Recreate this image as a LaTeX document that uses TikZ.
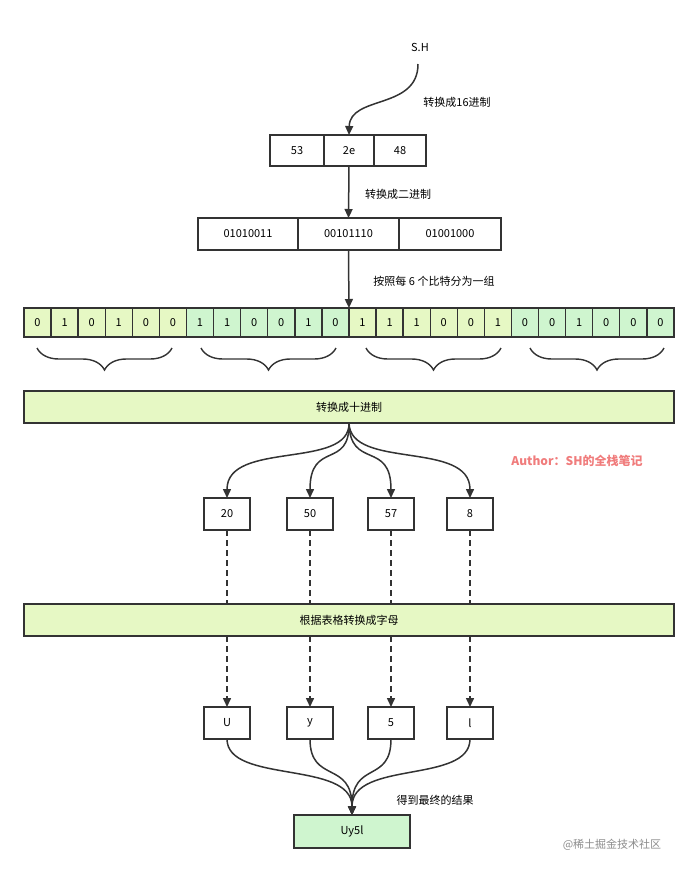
\documentclass[tikz,border=0pt]{standalone}
\usepackage{fontspec}
\setmainfont{Noto Sans CJK SC}
\usetikzlibrary{arrows.meta,decorations.pathreplacing}
\definecolor{lime}{HTML}{E6F8C4}
\definecolor{mint}{HTML}{CFF5CF}
\definecolor{author}{HTML}{F07C7C}
\begin{document}
\begin{tikzpicture}[
  x = 1pt, y = -1pt,
  cell/.style = {
    draw = black!80,
    line width = 1.4pt,
    inner sep = 0pt,
    outer sep = 0pt,
    font = \fontsize{11}{13}\selectfont,
  },
  lbl/.style = {
    font = \fontsize{11}{13}\selectfont,
  },
  arr/.style = {
    draw = black!80,
    line width = 1.5pt,
    -{Triangle[length=9pt, width=8pt]}
  },
  dasharr/.style = {
    arr,
    dash pattern = on 6pt off 4pt
  }
]
  \useasboundingbox (0,0) rectangle (699,873);

  \node[lbl] (sh) at (420,47) {S.H};
  \coordinate (shout) at (418,64);

  % hex row
  \node[cell, minimum width = 54pt, minimum height = 31pt] (h1) at (297,150.5) {53};
  \node[cell, minimum width = 50pt, minimum height = 31pt] (h2) at (349,150.5) {2e};
  \node[cell, minimum width = 52pt, minimum height = 31pt] (h3) at (400,150.5) {48};

  % binary row
  \node[cell, minimum width = 100pt, minimum height = 32pt] (b1) at (248,234) {01010011};
  \node[cell, minimum width = 101pt, minimum height = 32pt] (b2) at (348.5,234) {00101110};
  \node[cell, minimum width = 102pt, minimum height = 32pt] (b3) at (450,234) {01001000};

  \draw[arr] (shout) .. controls (418,110) and (350,95) .. (h2.north);
  \node[lbl] (lhex) at (457,102) {转换成16进制};
  \draw[arr] (h2.south) -- (b2.north);
  \node[lbl] (lbin) at (398,194) {转换成二进制};
  \node[lbl] (lsix) at (434,281) {按照每 6 个比特分为一组};

  % bits
  \foreach \b [count=\i from 0] in {0,1,0,1,0,0,1,1,0,0,1,0,1,1,1,0,0,1,0,0,1,0,0,0} {
    \pgfmathtruncatemacro{\grp}{mod(int(\i/6),2)}
    \ifnum\grp=0 \def\fc{lime}\else\def\fc{mint}\fi
    \node[cell, fill = \fc, minimum width = 27.08pt, minimum height = 29pt]
      (bit\i) at ({24+27.08*\i+13.54},322.5) {\b};
  }
  \draw[arr] (b2.south) -- (bit12.north west);

  % braces
  \foreach \xa/\xb [count=\k] in {37/172, 201/336, 366/501, 530/664} {
    \draw[black!80, line width = 1.4pt, decorate,
      decoration = {brace, mirror, amplitude = 22pt}]
      (\xa,348) coordinate (br\k a) -- (\xb,348) coordinate (br\k b);
  }

  \node[cell, fill = lime, minimum width = 650pt, minimum height = 32pt] (dec) at (349,407) {转换成十进制};

  \node[lbl, text = author, font = \fontsize{12}{14}\selectfont\bfseries] (auth) at (577,461) {Author：SH的全栈笔记};

  % decimal values
  \foreach \v/\x [count=\k] in {20/227, 50/310, 57/391, 8/470} {
    \node[cell, minimum width = 46pt, minimum height = 32pt] (d\k) at (\x,514) {\v};
    \draw[arr] (dec.south) .. controls (350,470) and (\x,440) .. (d\k.north);
  }

  \node[cell, fill = lime, minimum width = 650pt, minimum height = 32pt] (tab) at (349,620) {根据表格转换成字母};

  % letters
  \foreach \v/\x [count=\k] in {U/227, y/310, 5/391, l/470} {
    \node[cell, minimum width = 46pt, minimum height = 32pt] (c\k) at (\x,723) {\v};
    \draw[black!80, line width = 1.5pt, dash pattern = on 6pt off 4pt] (d\k.south) -- (\x,604);
    \draw[dasharr] (\x,636) -- (c\k.north);
  }

  \node[cell, fill = mint, minimum width = 116pt, minimum height = 33pt] (res) at (352,831.5) {Uy5l};
  \foreach \k in {1,...,4} {
    \draw[arr] (c\k.south) .. controls ([yshift=-45pt]c\k.south) and (352,760) .. (res.north);
  }
  \node[lbl] (lres) at (435,800) {得到最终的结果};

  \node[lbl, text = black!45] (wm) at (612,845) {@稀土掘金技术社区};
\end{tikzpicture}
\end{document}
